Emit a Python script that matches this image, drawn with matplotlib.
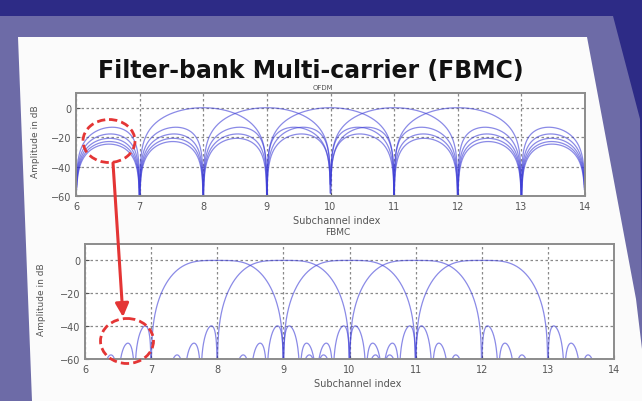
import numpy as np
import matplotlib
matplotlib.use("Agg")
import matplotlib.pyplot as plt
from matplotlib.patches import Polygon, Ellipse

# ---- chart data ----
subchannels = [8, 9, 10, 11, 12]          # active subcarrier centres
phydyas_coeffs = [1.0, 0.97196, 0.70711, 0.23515]   # PHYDYAS prototype, K = 4
overlap_factor = 4
x_range = (6, 14)
y_range = (-60, 10)
x_ticks = [6, 7, 8, 9, 10, 11, 12, 13, 14]
y_ticks = [0, -20, -40, -60]
titles = ["OFDM", "FBMC"]
slide_title = "Filter-bank Multi-carrier (FBMC)"
x_label = "Subchannel index"
y_label = "Amplitude in dB"

W, H = 642, 402
fig = plt.figure(figsize=(W / 100, H / 100), dpi=100)


def box(l, t, r, b):
    return [l / W, 1 - b / H, (r - l) / W, (b - t) / H]


# ---- slide background ----
bg = fig.add_axes([0, 0, 1, 1], zorder=0)
bg.set_xlim(0, W)
bg.set_ylim(H, 0)
bg.axis("off")
bg.add_patch(Polygon([(0, 0), (W, 0), (W, H), (0, H)], closed=True,
                     facecolor="#2d2b86", edgecolor="none"))
bg.add_patch(Polygon([(0, 17), (613, 17), (640, 120), (642, 300), (642, H), (0, H)],
                     closed=True, facecolor="#6d6ba7", edgecolor="none"))
bg.add_patch(Polygon([(18, 38), (587, 38), (636, 300), (642, 350), (642, H), (32, H)],
                     closed=True, facecolor="#fbfbfb", edgecolor="none"))

# ---- spectra ----
f = np.linspace(x_range[0] + 0.01, x_range[1] - 0.01, 1600)


def to_db(mag):
    return 20 * np.log10(np.maximum(np.abs(mag), 1e-4))


def ofdm_response(k):
    return np.sinc(f - k)


def fbmc_response(k):
    resp = np.zeros_like(f)
    K = overlap_factor
    for m in range(-(K - 1), K):
        resp += phydyas_coeffs[abs(m)] * np.sinc(K * (f - k) - m)
    return resp


line_kw = dict(color="#3d3dd6", alpha=0.6, lw=0.9)

ax_top = fig.add_axes(box(76, 94, 585, 197), zorder=1)
ax_bot = fig.add_axes(box(85, 245, 614, 360), zorder=1)

for k in subchannels:
    ax_top.plot(f, to_db(ofdm_response(k)), **line_kw)
    ax_bot.plot(f, to_db(fbmc_response(k)), **line_kw)

for ax in (ax_top, ax_bot):
    ax.set_xlim(*x_range)
    ax.set_ylim(*y_range)
    ax.set_xticks(x_ticks)
    ax.set_yticks(y_ticks)
    ax.grid(True, linestyle=(0, (2, 2)), color="#8a8a8a", lw=0.9)
    ax.tick_params(direction="in", length=3, labelsize=7, colors="#555555",
                   labelcolor="#555555")
    for s in ax.spines.values():
        s.set_color("#8c8c8c")
        s.set_linewidth(1.4)
    ax.set_facecolor("white")

# ---- text and annotations ----
ov = fig.add_axes([0, 0, 1, 1], zorder=2)
ov.set_xlim(0, W)
ov.set_ylim(H, 0)
ov.axis("off")
ov.patch.set_alpha(0)

ov.text(311, 78, slide_title, ha="center", va="baseline", fontsize=17,
        fontweight="bold", color="#111111")
ov.text(323, 88, titles[0], ha="center", va="center", fontsize=5, color="#555555")
ov.text(337, 221, x_label, ha="center", va="center", fontsize=7, color="#555555")
ov.text(338, 233, titles[1], ha="center", va="center", fontsize=6.5, color="#555555")
ov.text(358, 384, x_label, ha="center", va="center", fontsize=7, color="#555555")
ov.text(36, 142, y_label, ha="center", va="center", rotation=90, fontsize=6.5,
        color="#555555")
ov.text(41, 300, y_label, ha="center", va="center", rotation=90, fontsize=6.5,
        color="#555555")

red = "#e43535"
ov.add_patch(Ellipse((109, 142), 52, 43, fill=False, edgecolor=red, lw=2.0,
                     linestyle=(0, (3, 1.5))))
ov.add_patch(Ellipse((127, 342), 53, 45, fill=False, edgecolor=red, lw=2.0,
                     linestyle=(0, (3, 1.5))))
ov.annotate("", xy=(123, 318), xytext=(113, 164),
            arrowprops=dict(arrowstyle="-|>", color=red, lw=2.2,
                            mutation_scale=20, shrinkA=0, shrinkB=0))

fig.savefig("out.png", dpi=100)
